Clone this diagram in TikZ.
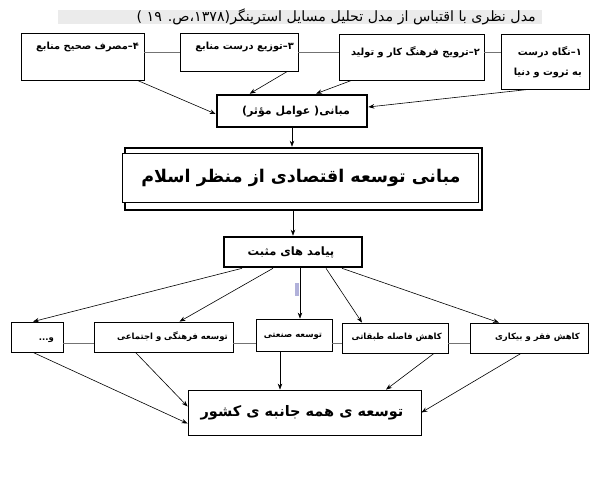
\documentclass[tikz,border=0pt]{standalone}
\usepackage{fontspec}
\newfontfamily\farsi[Script=Arabic]{DejaVu Sans}
\TeXXeTstate=1
\usetikzlibrary{positioning}
\usetikzlibrary{arrows.meta}

\begin{document}
\begin{tikzpicture}[
    x=1pt, y=-1pt,
    font=\farsi\bfseries
]
\tikzset{
    mybox/.style = {draw=black, line width=0.8pt, fill=white, inner sep=0pt},
    myboxt/.style = {mybox, line width=2.6pt},
    mytext/.style = {inner sep=0pt, font=\farsi\bfseries\fontsize{8.5}{20}\selectfont},
    mytextt/.style = {inner sep=0pt, font=\farsi\bfseries\fontsize{9.8}{20}\selectfont},
    edgea/.style = {-{Stealth[length=6pt,width=4.5pt]}, line width=0.6pt},
    edgel/.style = {line width=0.9pt, black!55}
}
\useasboundingbox (0,0) rectangle (599,485);
% title
\fill[black!8] (58,10) rectangle (542,24);
\node[anchor=east, inner sep=0pt, font=\farsi\fontsize{14.2}{16}\selectfont] at (536,17) (title)
    {\beginR مدل نظری با اقتباس از مدل تحلیل مسایل استرینگر(۱۳۷۸،ص. ۱۹ )\endR};
% top row
\node[mybox, minimum width=123pt, minimum height=47pt] at (82.5,56.5) (b4) {};
\node[mybox, minimum width=118pt, minimum height=38pt] at (239,52) (b3) {};
\node[mybox, minimum width=145pt, minimum height=46pt] at (411.5,57) (b2) {};
\node[mybox, minimum width=88pt, minimum height=55pt] at (545,61.5) (b1) {};
\node[mytextt, anchor=east] at (139,47) (t4) {\beginR ۴–مصرف صحیح منابع\endR};
\node[mytextt, anchor=east] at (294,47) (t3) {\beginR ۳–توزیع درست منابع\endR};
\node[mytextt, anchor=east] at (480,52) (t2) {\beginR ۲–ترویج فرهنگ کار و تولید\endR};
\node[mytextt, anchor=east, align=right] at (582,62) (t1)
    {\beginR ۱–نگاه درست\endR\\\beginR به ثروت و دنیا\endR};
\draw[edgel] (b3.west) -- (b3.west -| b4.east);
\draw[edgel] (b3.east) -- (b3.east -| b2.west);
\draw[edgel] (b3.east -| b2.east) -- (b3.east -| b1.west);
% mabani
\node[myboxt, minimum width=150pt, minimum height=32pt] at (292,111) (m) {};
\node[inner sep=0pt, font=\farsi\bfseries\fontsize{11}{13}\selectfont] at (296,112) (tm)
    {\beginR مبانی( عوامل مؤثر)\endR};
\draw[edgea] ([xshift=-7pt]b4.south east) -- ([yshift=-3pt]m.west);
\draw[edgea] ([xshift=-11pt]b3.south east) -- ([xshift=34pt]m.north west);
\draw[edgea] ([xshift=13pt]b2.south west) -- ([xshift=24pt]m.north);
\draw[edgea] ([xshift=28pt]b1.south west) -- ([yshift=4pt]m.east);
% main box
\node[draw=black, line width=2.6pt, inner sep=0pt, minimum width=357pt, minimum height=62pt] at (303.5,179) (bo) {};
\node[mybox, minimum width=356pt, minimum height=49pt] at (300,177.5) (bi) {};
\node[inner sep=0pt, font=\farsi\bfseries\fontsize{17.5}{21}\selectfont] at (301,178) (tb)
    {\beginR مبانی توسعه اقتصادی از منظر اسلام\endR};
\draw[edgea] (m.south) -- (m.south |- bo.north);
% payamad
\node[myboxt, minimum width=138pt, minimum height=30pt] at (293,252) (p) {};
\node[inner sep=0pt, font=\farsi\bfseries\fontsize{11.5}{13}\selectfont] at (291,253) (tp)
    {\beginR پیامد های مثبت\endR};
\draw[edgea] (p.north |- bo.south) -- (p.north);
\fill[blue!35!gray!45] (295,283) rectangle (299,296);
% lower row
\node[mybox, minimum width=52pt, minimum height=30pt] at (37,337) (l5) {};
\node[mybox, minimum width=139pt, minimum height=30pt] at (163.5,337) (l4) {};
\node[mybox, minimum width=76pt, minimum height=32pt] at (294,335) (l3) {};
\node[mybox, minimum width=106pt, minimum height=30pt] at (395,338) (l2) {};
\node[mybox, minimum width=118pt, minimum height=30pt] at (529,338) (l1) {};
\node[mytext, anchor=east] at (54,340) (t5) {\beginR و...\endR};
\node[mytext, anchor=east] at (228,337) (t4b) {\beginR توسعه فرهنگی و اجتماعی\endR};
\node[mytext] at (293,336) (t3b) {\beginR توسعه صنعتی\endR};
\node[mytext, anchor=east] at (442,337) (t2b) {\beginR کاهش فاصله طبقاتی\endR};
\node[mytext, anchor=east] at (580,337) (t1b) {\beginR کاهش فقر و بیکاری\endR};
\draw[edgel] ([yshift=-6pt]l5.east) -- ([yshift=-6pt]l5.east -| l4.west);
\draw[edgel] ([yshift=-6pt]l4.east) -- ([yshift=-6pt]l4.east -| l3.west);
\draw[edgel] ([yshift=-6pt]l4.east -| l3.east) -- ([yshift=-6pt]l4.east -| l2.west);
\draw[edgel] ([yshift=-6pt]l4.east -| l2.east) -- ([yshift=-6pt]l4.east -| l1.west);
\draw[edgea] ([xshift=-51pt]p.south) -- ([xshift=-4pt]l5.north);
\draw[edgea] ([xshift=-20pt]p.south) -- ([xshift=16pt]l4.north);
\draw[edgea] ([xshift=7pt]p.south) -- ([xshift=6pt]l3.north);
\draw[edgea] ([xshift=33pt]p.south) -- ([xshift=-33pt]l2.north);
\draw[edgea] ([xshift=49pt]p.south) -- ([xshift=-30pt]l1.north);
% final
\node[mybox, minimum width=233pt, minimum height=45pt] at (304.5,412.5) (f) {};
\node[inner sep=0pt, font=\farsi\bfseries\fontsize{14.5}{17}\selectfont] at (302,413) (tf)
    {\beginR توسعه ی همه جانبه ی کشور\endR};
\draw[edgea] ([xshift=-4pt]l5.south) -- ([yshift=-11pt]f.west);
\draw[edgea] ([xshift=-28pt]l4.south) -- ([yshift=6pt]f.west);
\draw[edgea] ([xshift=-14pt]l3.south) -- ([xshift=-24.5pt]f.north);
\draw[edgea] ([xshift=39pt]l2.south) -- ([xshift=81.5pt]f.north);
\draw[edgea] ([xshift=-8pt]l1.south) -- (f.east);
\end{tikzpicture}
\end{document}
